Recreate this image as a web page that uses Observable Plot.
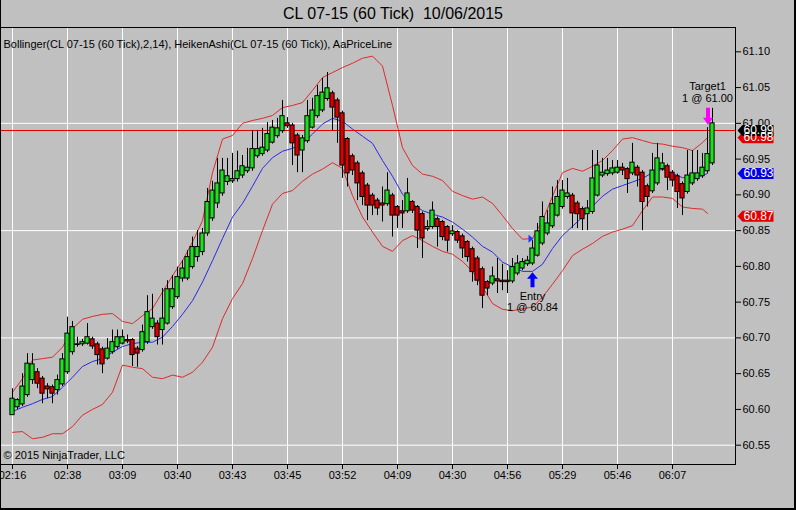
<!DOCTYPE html>
<html><head><meta charset="utf-8">
<script src="https://cdn.jsdelivr.net/npm/d3@7"></script>
<script src="https://cdn.jsdelivr.net/npm/@observablehq/plot@0.6"></script>
<style>
body{margin:0;background:#c0c0c0;font-family:"Liberation Sans",Arial,sans-serif;}
#wrap{position:relative;width:796px;height:510px;overflow:hidden;background:#c0c0c0;}
#title{height:27px;line-height:28px;text-align:center;font-size:16px;color:#000;padding-right:10px;white-space:pre;}
#border{position:absolute;left:0;top:0;width:796px;height:510px;box-sizing:border-box;border-left:1px solid #000;border-right:2px solid #000;border-bottom:2px solid #000;pointer-events:none;}
svg{display:block;}
</style></head>
<body><div id="wrap"><div id="title">CL 07-15 (60 Tick)  10/06/2015</div><div id="chart"></div><div id="border"></div></div>
<script>
// ---- Heiken Ashi candles (bar index 0..140) ----
const haOpen = [60.592,60.603,60.607,60.620,60.641,60.652,60.643,60.632,60.631,60.627,
60.635,60.652,60.680,60.690,60.691,60.692,60.698,60.691,60.684,60.671,
60.680,60.687,60.692,60.697,60.697,60.685,60.683,60.694,60.715,60.720,
60.711,60.720,60.743,60.757,60.783,60.783,60.799,60.813,60.820,60.846,
60.867,60.888,60.902,60.918,60.919,60.922,60.927,60.933,60.937,60.954,
60.957,60.962,60.973,60.982,60.989,61.000,60.997,60.983,60.962,60.975,
60.994,61.010,61.018,61.034,61.042,61.032,61.014,60.978,60.954,60.944,
60.930,60.913,60.899,60.892,60.888,60.887,60.899,60.883,60.877,60.877,
60.890,60.883,60.873,60.852,60.855,60.866,60.862,60.855,60.845,60.848,
60.842,60.834,60.824,60.811,60.796,60.778,60.776,60.782,60.780,60.780,
60.779,60.790,60.797,60.803,60.804,60.815,60.832,60.846,60.856,60.871,
60.883,60.897,60.899,60.888,60.880,60.873,60.876,60.899,60.927,60.929,
60.930,60.931,60.938,60.936,60.930,60.938,60.931,60.912,60.905,60.916,
60.936,60.940,60.931,60.926,60.915,60.904,60.916,60.922,60.926,60.933,
60.944];
const haHigh = [60.629,60.615,60.650,60.678,60.678,60.657,60.646,60.636,60.634,60.648,
60.678,60.729,60.723,60.701,60.698,60.720,60.701,60.694,60.687,60.699,
60.711,60.711,60.711,60.704,60.699,60.688,60.718,60.759,60.761,60.724,
60.769,60.780,60.787,60.799,60.808,60.822,60.841,60.850,60.853,60.909,
60.919,60.951,60.951,60.951,60.958,60.961,60.955,60.965,60.990,60.990,
60.993,61.001,61.004,61.007,61.032,61.008,61.000,60.986,60.983,61.032,
61.035,61.053,61.063,61.071,61.045,61.035,61.017,60.980,60.957,60.947,
60.933,60.916,60.902,60.895,60.911,60.931,60.902,60.885,60.892,60.923,
60.892,60.885,60.876,60.864,60.890,60.869,60.864,60.857,60.857,60.850,
60.845,60.836,60.827,60.814,60.799,60.780,60.799,60.811,60.803,60.794,
60.811,60.815,60.811,60.814,60.836,60.860,60.890,60.878,60.911,60.920,
60.920,60.923,60.902,60.891,60.883,60.892,60.962,60.962,60.951,60.951,
60.948,60.948,60.944,60.938,60.972,60.941,60.934,60.915,60.958,60.972,
60.958,60.943,60.934,60.929,60.918,60.962,60.962,60.962,60.958,60.994,
61.021];
const haLow = [60.592,60.600,60.604,60.617,60.635,60.629,60.608,60.615,60.608,60.620,
60.632,60.649,60.676,60.687,60.688,60.690,60.684,60.662,60.650,60.669,
60.677,60.684,60.690,60.692,60.660,60.659,60.680,60.691,60.712,60.690,
60.690,60.718,60.740,60.754,60.778,60.780,60.796,60.806,60.815,60.842,
60.863,60.881,60.898,60.913,60.916,60.918,60.923,60.930,60.933,60.951,
60.954,60.959,60.971,60.979,60.986,60.993,60.941,60.931,60.931,60.972,
60.992,61.007,61.015,61.031,60.990,60.972,60.923,60.911,60.927,60.892,
60.885,60.864,60.871,60.871,60.862,60.884,60.841,60.853,60.853,60.874,
60.874,60.825,60.811,60.849,60.852,60.827,60.836,60.820,60.842,60.832,
60.811,60.806,60.778,60.773,60.741,60.759,60.773,60.762,60.766,60.762,
60.776,60.787,60.794,60.800,60.801,60.813,60.829,60.843,60.853,60.869,
60.880,60.894,60.853,60.853,60.850,60.850,60.873,60.897,60.924,60.926,
60.927,60.929,60.927,60.902,60.927,60.911,60.850,60.883,60.902,60.913,
60.933,60.906,60.911,60.881,60.871,60.901,60.913,60.919,60.923,60.930,
60.941];
const haClose = [60.615,60.613,60.632,60.664,60.663,60.636,60.622,60.628,60.622,60.641,
60.670,60.706,60.715,60.691,60.694,60.701,60.688,60.676,60.663,60.685,
60.694,60.701,60.701,60.695,60.676,60.678,60.708,60.736,60.727,60.701,
60.727,60.768,60.768,60.785,60.797,60.813,60.827,60.827,60.846,60.890,
60.906,60.916,60.934,60.926,60.922,60.933,60.940,60.938,60.964,60.964,
60.966,60.985,60.994,60.993,61.010,60.996,60.972,60.955,60.979,61.010,
61.018,61.038,61.043,61.049,61.022,61.008,60.941,60.930,60.934,60.916,
60.897,60.885,60.885,60.881,60.885,60.906,60.871,60.871,60.874,60.902,
60.878,60.850,60.839,60.855,60.878,60.855,60.841,60.836,60.849,60.836,
60.825,60.813,60.792,60.780,60.759,60.769,60.786,60.779,60.778,60.778,
60.799,60.804,60.806,60.808,60.825,60.849,60.869,60.860,60.887,60.897,
60.906,60.902,60.874,60.873,60.866,60.881,60.923,60.941,60.931,60.934,
60.937,60.938,60.934,60.922,60.945,60.927,60.890,60.897,60.934,60.951,
60.944,60.924,60.920,60.904,60.895,60.927,60.930,60.930,60.938,60.957,
61.000];

// ---- Bollinger(2,14) ----
const bandBars = [0,2,4,6,8,10,12,14,16,18,20,22,24,26,28,30,32,34,36,38,40,42,44,46,48,50,52,54,56,58,60,62,64,66,68,70,72,74,76,78,80,82,84,86,88,90,92,94,96,98,100,102,104,106,108,110,112,114,116,118,120,122,124,126,128,130,132,134,136,138,139];
const upperBand = [60.624,60.643,60.669,60.671,60.673,60.687,60.713,60.726,60.730,60.733,60.734,60.723,60.720,60.731,60.741,60.764,60.787,60.808,60.834,60.864,60.931,60.978,60.983,61.000,61.004,61.007,61.011,61.022,61.025,61.029,61.046,61.064,61.071,61.078,61.084,61.091,61.094,61.080,61.025,60.966,60.941,60.929,60.926,60.920,60.905,60.899,60.894,60.897,60.888,60.871,60.853,60.838,60.839,60.864,60.898,60.931,60.937,60.933,60.940,60.948,60.962,60.978,60.980,60.976,60.972,60.971,60.968,60.966,60.962,60.973,60.980];
const middleBand = [60.597,60.603,60.608,60.614,60.618,60.631,60.645,60.660,60.667,60.671,60.680,60.688,60.692,60.694,60.694,60.701,60.716,60.733,60.752,60.778,60.808,60.839,60.869,60.888,60.912,60.937,60.952,60.961,60.965,60.972,60.985,60.999,61.007,61.003,60.992,60.982,60.972,60.948,60.926,60.901,60.887,60.878,60.873,60.869,60.862,60.852,60.841,60.828,60.820,60.806,60.799,60.793,60.793,60.803,60.825,60.843,60.856,60.869,60.884,60.898,60.908,60.913,60.918,60.923,60.931,60.936,60.930,60.924,60.924,60.927,60.930];
const lowerBand = [60.568,60.569,60.559,60.561,60.566,60.566,60.576,60.592,60.600,60.607,60.624,60.662,60.659,60.657,60.645,60.643,60.648,60.645,60.652,60.666,60.687,60.727,60.755,60.776,60.811,60.850,60.887,60.902,60.906,60.919,60.929,60.936,60.945,60.937,60.899,60.869,60.848,60.828,60.821,60.836,60.843,60.836,60.828,60.821,60.817,60.807,60.793,60.771,60.748,60.740,60.738,60.741,60.743,60.757,60.775,60.794,60.815,60.824,60.832,60.842,60.848,60.852,60.857,60.878,60.897,60.897,60.895,60.883,60.881,60.880,60.874];

// ---- axes ----
const tickBars = [0,11,22,33,44,55,66,77,88,99,110,121,132];
const timeLabels = ["02:16","02:38","03:09","03:40","03:43","03:45","03:52","04:09","04:30","04:56","05:29","05:46","06:07"];
const yTicks = [60.55,60.60,60.65,60.70,60.75,60.80,60.85,60.90,60.95,61.00,61.05,61.10];
const gridPrices = [60.55,60.70,60.85,61.00];

// ---- price line, tags, executions ----
const lastPrice = 60.99;
const tagPrices = [60.98, 60.93, 60.87, 60.99];
const tagColors = ["#e00000", "#0000e8", "#e00000", "#000000"];
const entryBar = 104, entryPrice = 60.84, entryLabel = "Entry\n1 @ 60.84";
const targetBar = 140, targetPrice = 61.00, targetLabel = "Target1\n1 @ 61.00";
const indicatorLabel = "Bollinger(CL 07-15 (60 Tick),2,14), HeikenAshi(CL 07-15 (60 Tick)), AaPriceLine";
const copyrightLabel = "\u00a9 2015 NinjaTrader, LLC";

const xDomain = [-2.4, 144.6];
const yDomain = [60.523, 61.134];

const candles = haOpen.map((o, i) => ({bar: i, open: o, high: haHigh[i], low: haLow[i], close: haClose[i]}));
const up = candles.filter(d => d.close >= d.open);
const down = candles.filter(d => d.close < d.open);
const bands = bandBars.map((b, i) => ({bar: b, upper: upperBand[i], mid: middleBand[i], lower: lowerBand[i]}));
const tags = tagPrices.map((p, i) => ({price: p, color: tagColors[i], label: d3.format(".2f")(p)}));
const labelByBar = new Map(tickBars.map((b, i) => [b, timeLabels[i]]));
const entryCandle = candles[entryBar];

const upArrow = {draw(c) { c.moveTo(0,-7.5); c.lineTo(5.5,-1); c.lineTo(2,-1); c.lineTo(2,7.5); c.lineTo(-2,7.5); c.lineTo(-2,-1); c.lineTo(-5.5,-1); c.closePath(); }};
const downArrow = {draw(c) { c.moveTo(0,8.5); c.lineTo(5,1.5); c.lineTo(2,1.5); c.lineTo(2,-8.5); c.lineTo(-2,-8.5); c.lineTo(-2,1.5); c.lineTo(-5,1.5); c.closePath(); }};
const rightTri = {draw(c) { c.moveTo(-2,-4); c.lineTo(3,0); c.lineTo(-2,4); c.closePath(); }};
const tagShape = {draw(c) { c.moveTo(-19,0); c.lineTo(-14,-5.5); c.lineTo(17,-5.5); c.lineTo(17,5.5); c.lineTo(-14,5.5); c.closePath(); }};

const GREEN = "#1ee01e", RED = "#dd0000";

const chart = Plot.plot({
  width: 796, height: 483,
  marginLeft: 0, marginRight: 61, marginTop: 0, marginBottom: 46,
  style: {background: "#c0c0c0", fontFamily: "'Liberation Sans', Arial, sans-serif", fontSize: "11px", color: "black", overflow: "visible"},
  x: {type: "linear", domain: xDomain},
  y: {domain: yDomain},
  marks: [
    Plot.gridX({ticks: tickBars, stroke: "white", strokeOpacity: 1}),
    Plot.gridY({ticks: gridPrices, stroke: "white", strokeOpacity: 1}),
    Plot.line(bands, {x: "bar", y: "upper", stroke: "#dd2a2a", strokeWidth: 1}),
    Plot.line(bands, {x: "bar", y: "lower", stroke: "#dd2a2a", strokeWidth: 1}),
    Plot.line(bands, {x: "bar", y: "mid", stroke: "#2a2ae0", strokeWidth: 1}),
    Plot.ruleY([lastPrice], {stroke: "#e00000", strokeWidth: 1}),
    Plot.ruleX(candles, {x: "bar", y1: "low", y2: "high", stroke: "black", strokeWidth: 1}),
    Plot.rect(up, {x1: d => d.bar - 0.42, x2: d => d.bar + 0.42, y1: "open", y2: "close", fill: GREEN, stroke: "black", strokeWidth: 1}),
    Plot.rect(down, {x1: d => d.bar - 0.42, x2: d => d.bar + 0.42, y1: "open", y2: "close", fill: RED, stroke: "black", strokeWidth: 1}),
    Plot.frame({stroke: "black"}),
    Plot.axisX({ticks: tickBars, tickFormat: d => labelByBar.get(d), tickSize: 5, tickPadding: 2, label: null}),
    Plot.axisY({anchor: "right", ticks: yTicks, tickFormat: d3.format(".2f"), tickSize: 5, tickPadding: 2, label: null}),
    Plot.dot(tags, {y: "price", frameAnchor: "right", dx: 21, symbol: tagShape, fill: "color", stroke: "none"}),
    Plot.text(tags, {y: "price", text: "label", frameAnchor: "right", dx: 23, textAnchor: "middle", fill: "white", fontSize: 12}),
    Plot.dot([entryCandle], {x: "bar", y: "low", dy: 14, symbol: upArrow, fill: "#0000ff", stroke: "none"}),
    Plot.text([entryCandle], {x: "bar", y: "low", dy: 36, text: () => entryLabel, lineHeight: 1.05, fill: "black"}),
    Plot.dot([entryPrice], {x: () => entryBar, y: d => d, dx: -2, dy: 1, symbol: rightTri, fill: "#1a3cff", stroke: "none"}),
    Plot.dot([targetPrice], {x: () => targetBar, y: d => d, dx: -4.5, dy: -7, symbol: downArrow, fill: "#ff00ff", stroke: "none"}),
    Plot.text([targetPrice], {x: () => targetBar, y: d => d, dx: -5, dy: -31, text: () => targetLabel, lineHeight: 1.09, fill: "black"}),
    Plot.text([indicatorLabel], {frameAnchor: "top-left", dx: 3, dy: 13, textAnchor: "start", fill: "black"}),
    Plot.text([copyrightLabel], {frameAnchor: "bottom-left", dx: 3, dy: -6, textAnchor: "start", fill: "black"})
  ]
});
document.getElementById("chart").appendChild(chart);
</script></body></html>
